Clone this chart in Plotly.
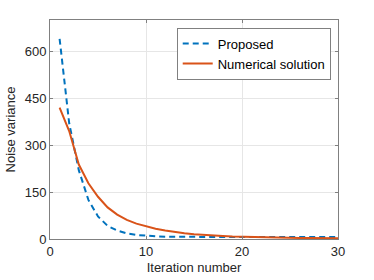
import plotly.graph_objects as go

iterations = list(range(1, 31))
proposed = [640, 370, 220, 125, 72, 42, 27, 18, 13, 10, 8.5, 7.5, 7, 6.5, 6.3, 6, 6, 6, 6, 6,
            6, 6, 6, 6, 6, 6, 6, 6, 6, 6]
numerical = [420, 345, 238, 178, 135, 101, 78, 61, 49, 40, 33, 27, 22, 18.5, 15.5, 13, 11, 9.5, 8, 7,
             6, 5.3, 4.7, 4.2, 3.8, 3.4, 3.1, 2.8, 2.6, 2.4]
x_ticks = [0, 10, 20, 30]
y_ticks = [0, 150, 300, 450, 600]

fig = go.Figure()
fig.add_trace(go.Scatter(x=iterations, y=proposed, mode="lines", name="Proposed",
                         line=dict(color="#0072BD", width=2, dash="6px,4px")))
fig.add_trace(go.Scatter(x=iterations, y=numerical, mode="lines", name="Numerical solution",
                         line=dict(color="#D95319", width=2)))

axis_common = dict(showline=True, mirror="ticks", linecolor="#808080", linewidth=1,
                   ticks="inside", ticklen=3, tickcolor="#808080", automargin=False,
                   showgrid=True, gridcolor="#E6E6E6", gridwidth=1, zeroline=False,
                   tickfont=dict(family="Liberation Sans, Arial", size=13, color="#262626"))

fig.update_layout(
    width=374, height=280,
    margin=dict(l=50, r=36, t=20, b=41),
    paper_bgcolor="white", plot_bgcolor="white",
    font=dict(family="Liberation Sans, Arial", size=12, color="#262626"),
    xaxis=dict(range=[0, 30], tickvals=x_ticks,
               title=dict(text="Iteration number", font=dict(size=13), standoff=5), **axis_common),
    yaxis=dict(range=[0, 700], tickvals=y_ticks,
               title=dict(text="Noise variance", font=dict(size=13), standoff=6), **axis_common),
    legend=dict(x=0.44, y=0.965, xanchor="left", yanchor="top",
                bgcolor="white", bordercolor="#808080", borderwidth=1,
                font=dict(size=13, color="#000000"), tracegroupgap=0,
                itemwidth=30),
    showlegend=True,
)

fig.write_html("out.html", config={"displayModeBar": False},
               post_script="document.body.style.margin='0';document.body.style.overflow='hidden';")
